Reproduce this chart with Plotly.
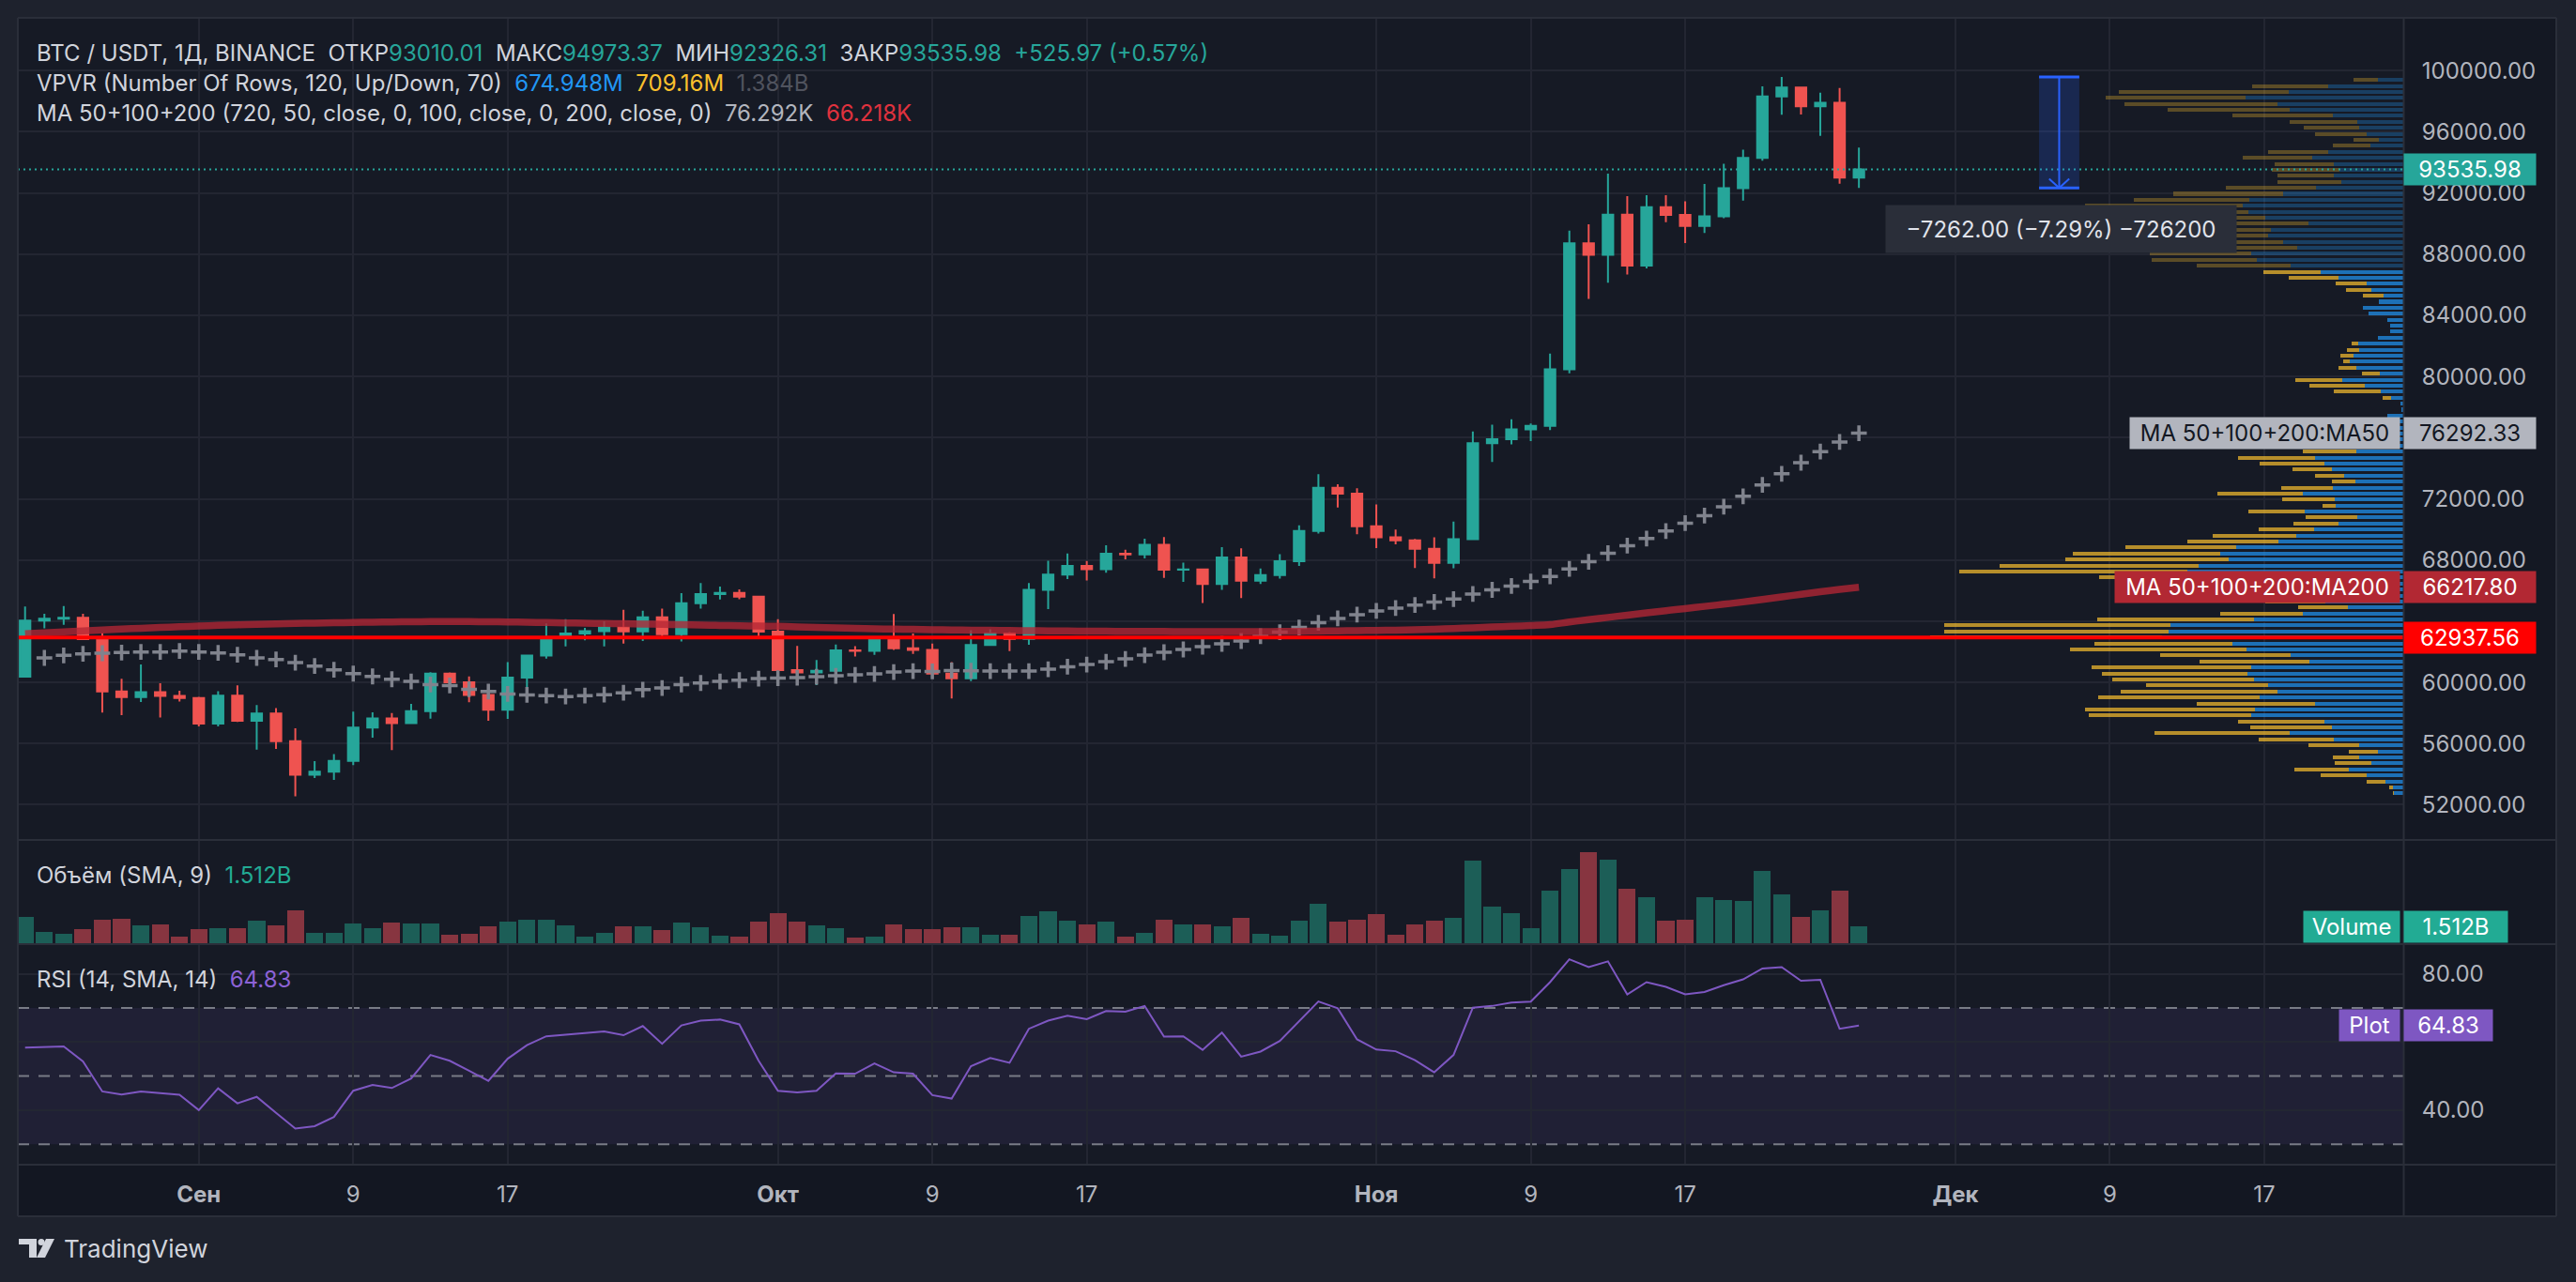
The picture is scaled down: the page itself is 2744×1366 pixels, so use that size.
import numpy as np
import pandas as pd
import plotly.graph_objects as go

# ---------------------------------------------------------------- data
dates = pd.date_range("2024-08-23", "2024-11-26", freq="D")

opens = [60380, 64037, 64157, 64220, 62834, 59415, 59034, 59359, 59123,
         58973, 57301, 59132, 57487, 57970, 56160, 53962, 54160, 54869, 57050,
         57648, 57343, 58127, 60571, 60005, 59182, 58213, 60309, 61759, 62947,
         63201, 63348, 63578, 63339, 64262, 63152, 65173, 65769, 65858, 65602,
         63327, 60805, 60649, 60752, 62086, 62058, 62819, 62224, 62131, 60582,
         60274, 62445, 63193, 62851, 66046, 67041, 67612, 67399, 68418, 68362,
         69001, 67367, 67390, 66432, 68161, 66642, 67014, 67929, 69907, 72720,
         72339, 70215, 69482, 69289, 68742, 67811, 69359, 75639, 75904, 76545,
         76778, 80471, 88701, 87955, 90585, 87250, 91066, 90558, 89843, 90465,
         92310, 94286, 98317, 98892, 97672, 97900, 93010.01]
highs = [64955, 64494, 65000, 64481, 63212, 60234, 61166, 59945, 59462,
         59054, 59425, 59809, 58519, 58327, 56995, 54850, 55318, 58088, 58044,
         57994, 58600, 60670, 60656, 60392, 59210, 61320, 61786, 63850, 64133,
         63559, 64000, 64745, 64688, 64817, 65839, 66498, 66260, 66076, 65618,
         64130, 62390, 61469, 62484, 62370, 62975, 64478, 63200, 62543, 61320,
         63417, 63480, 63285, 66500, 67950, 68424, 67939, 68969, 68668, 69400,
         69500, 67836, 67400, 68850, 68771, 67454, 68380, 70270, 73620, 72961,
         72700, 71632, 70000, 69387, 69480, 70522, 76400, 76849, 77199, 76932,
         81500, 89530, 89956, 93265, 91790, 91850, 91850, 91449, 92594, 93905,
         94831, 98967, 99588.31, 98908, 98564, 98871, 94973.37]
lows = [60345, 63531, 63773, 62800, 58034, 57860, 58713, 57703, 58744,
        57118, 57128, 57415, 55606, 55643, 52550, 53745, 53629, 54591, 56386,
        55567, 57321, 57630, 59571, 58697, 57493, 57610, 59175, 61555, 62350,
        62758, 62357, 62538, 62700, 62947, 62670, 64819, 65422, 65432, 62856,
        60164, 60000, 59828, 60459, 61689, 61798, 62128, 61860, 60300, 58946,
        60081, 62445, 62050, 62457, 64800, 66750, 66666, 67177, 68051, 68100,
        66835, 66571, 65188, 66051, 65521, 66439, 66792, 67618, 69730, 71436,
        69685, 68779, 69020, 67478, 66800, 67458, 69298, 74416, 75555, 75773,
        76492, 80216, 85072, 86127, 86668, 87073, 90093, 88722, 89376, 90357,
        91500, 94113, 97122, 97136, 95734, 92600, 92326.31]
closes = [64037, 64157, 64220, 62834, 59415, 59034, 59359, 59123, 58973,
          57301, 59132, 57487, 57970, 56160, 53962, 54160, 54869, 57050, 57648,
          57343, 58127, 60571, 60005, 59182, 58213, 60309, 61759, 62947, 63201,
          63348, 63578, 63339, 64262, 63152, 65173, 65769, 65858, 65602, 63327,
          60805, 60649, 60752, 62086, 62058, 62819, 62224, 62131, 60582, 60274,
          62445, 63193, 62851, 66046, 67041, 67612, 67399, 68418, 68362, 69001,
          67367, 67390, 66432, 68161, 66642, 67014, 67929, 69907, 72720, 72339,
          70215, 69482, 69289, 68742, 67811, 69359, 75639, 75904, 76545, 76778,
          80474, 88701, 87955, 90584, 87250, 91066, 90558, 89845, 90465, 92310,
          94286, 98317, 98892, 97672, 97900, 93010.01, 93535.98]

# quote volume, billions USDT
volume = [2.35, 1.01, 0.84, 1.26, 2.10, 2.18, 1.60, 1.68, 0.59,
          1.26, 1.34, 1.34, 2.02, 1.60, 2.94, 0.92, 0.92, 1.76, 1.34,
          1.85, 1.76, 1.76, 0.76, 0.84, 1.51, 1.93, 2.10, 2.10, 1.60,
          0.59, 0.92, 1.51, 1.51, 1.18, 1.85, 1.43, 0.67, 0.59, 1.93,
          2.69, 1.93, 1.60, 1.34, 0.50, 0.59, 1.68, 1.26, 1.26, 1.43,
          1.43, 0.76, 0.76, 2.44, 2.86, 2.02, 1.68, 1.93, 0.59, 0.92,
          2.10, 1.68, 1.68, 1.51, 2.27, 0.84, 0.67, 2.02, 3.53, 1.93,
          2.10, 2.60, 0.76, 1.68, 2.02, 2.27, 7.39, 3.28, 2.69, 1.34,
          4.70, 6.64, 8.15, 7.48, 4.87, 4.12, 2.02, 2.10, 4.12, 3.86,
          3.78, 6.47, 4.37, 2.35, 2.94, 4.70, 1.512]

# MA 50 (from Aug 24)
ma50 = [61601, 61765, 61867, 61908, 61950, 61990, 61990, 62052,
        61990, 61929, 61806, 61601, 61498, 61293, 61068, 60822, 60575, 60390,
        60206, 60062, 59857, 59796, 59550, 59406, 59242, 59181, 59140, 59078,
        59140, 59201, 59324, 59529, 59632, 59857, 59960, 60062, 60144, 60247,
        60280, 60309, 60370, 60432, 60493, 60555, 60678, 60740, 60720, 60781,
        60760, 60740, 60740, 60740, 60863, 61027, 61170, 61355, 61539, 61785,
        61970, 62154, 62339, 62524, 62708, 63016, 63283, 63590, 63898, 64185,
        64431, 64677, 64862, 65060, 65260, 65450, 65780, 66050, 66300, 66600,
        66927, 67418, 67886, 68447, 68939, 69406, 69897, 70412, 70903, 71488,
        72166, 72915, 73640, 74365, 75090, 75721, 76292.33]

# MA 200
ma200 = [63180, 63250, 63310, 63370, 63430, 63490, 63540, 63590, 63640,
         63690, 63730, 63770, 63800, 63830, 63860, 63880, 63900, 63920, 63940,
         63955, 63965, 63975, 63980, 63975, 63965, 63950, 63935, 63915, 63895,
         63875, 63855, 63835, 63815, 63795, 63775, 63750, 63725, 63700, 63690,
         63670, 63630, 63590, 63560, 63530, 63505, 63488, 63470, 63450, 63435,
         63420, 63405, 63390, 63380, 63370, 63360, 63350, 63344, 63338, 63333,
         63330, 63327, 63325, 63324, 63324, 63324, 63330, 63340, 63355, 63370,
         63385, 63400, 63420, 63447, 63480, 63520, 63570, 63620, 63670, 63720,
         63780, 63950, 64100, 64250, 64400, 64550, 64690, 64830, 64970, 65110,
         65260, 65420, 65590, 65760, 65930, 66080, 66217.80]

rsi = [58.4, 58.5, 58.7, 54.3, 45.5, 44.6, 45.5, 45.0, 44.5,
       40.0, 46.4, 42.0, 43.9, 39.2, 34.6, 35.3, 38.0, 45.7, 47.4,
       46.5, 49.3, 56.2, 54.5, 51.6, 48.6, 55.1, 59.1, 61.7, 62.2,
       62.5, 63.1, 62.0, 64.7, 59.5, 64.9, 66.3, 66.6, 65.2, 54.5,
       45.7, 45.2, 45.7, 50.8, 50.7, 53.7, 51.1, 50.7, 44.4, 43.4,
       52.9, 55.3, 53.9, 63.9, 66.3, 67.7, 66.7, 69.1, 68.9, 70.6,
       61.6, 61.7, 57.7, 62.8, 55.7, 57.2, 60.3, 66.2, 71.9, 69.9,
       60.8, 57.8, 57.3, 54.7, 51.1, 56.2, 70.1, 70.6, 71.6, 71.9,
       77.6, 84.3, 82.0, 83.7, 74.0, 77.6, 76.2, 74.0, 74.7, 76.7,
       78.4, 81.6, 82.0, 78.0, 78.3, 63.9, 64.83]

# visible range volume profile, 120 rows from the top price down
vp_high, vp_low = 99588.31, 52550.0
value_area = (52550.0, 87040.0)
vpvr_up = [81, 240, 367, 505, 403, 364, 225, 147, 141, 118,
           79, 105, 240, 291, 222, 204, 222, 198, 279, 384,
           492, 513, 495, 441, 303, 423, 433, 384, 339, 487,
           468, 360, 264, 207, 117, 102, 63, 78, 129, 111,
           51, 42, 42, 81, 144, 141, 159, 171, 150, 75,
           195, 123, 72, 39, 10, 5, 51, 60, 90, 120,
           140, 150, 150, 282, 252, 228, 189, 153, 225, 321,
           219, 216, 315, 147, 207, 285, 342, 399, 534, 585,
           558, 654, 690, 600, 500, 420, 330, 250, 177, 321,
           477, 744, 750, 771, 546, 501, 360, 300, 486, 498,
           477, 432, 402, 459, 282, 474, 486, 252, 228, 363,
           222, 141, 81, 141, 102, 174, 117, 57, 33, 30]
vpvr_down = [78, 243, 542, 446, 488, 389, 321, 216, 177, 164,
             80, 120, 192, 222, 189, 216, 180, 204, 288, 351,
             369, 504, 470, 420, 280, 400, 420, 360, 330, 323,
             336, 300, 183, 159, 99, 81, 66, 0, 0, 0,
             0, 0, 0, 0, 21, 39, 42, 21, 57, 57,
             150, 177, 150, 27, 0, 0, 0, 40, 70, 100,
             130, 150, 171, 246, 207, 126, 93, 75, 165, 273,
             168, 42, 180, 165, 144, 177, 267, 291, 354, 471,
             522, 636, 729, 372, 330, 280, 230, 190, 159, 264,
             501, 723, 717, 741, 441, 564, 417, 351, 510, 465,
             453, 390, 501, 516, 378, 543, 519, 276, 261, 432,
             240, 162, 93, 84, 117, 174, 147, 60, 12, 3]
vpvr_up_total, vpvr_down_total = 674.948e6, 709.16e6
poc_price = 62937.56

price_ticks = list(range(52000, 100001, 4000))
hidden_price_ticks = [64000, 76000]   # sit under the MA / POC tags
tick_dates = ["2024-09-01", "2024-09-09", "2024-09-17", "2024-10-01",
              "2024-10-09", "2024-10-17", "2024-11-01", "2024-11-09",
              "2024-11-17", "2024-12-01", "2024-12-09", "2024-12-17"]
tick_text = ["<b>Сен</b>", "9", "17", "<b>Окт</b>", "9", "17",
             "<b>Ноя</b>", "9", "17", "<b>Дек</b>", "9", "17"]
rsi_ticks = [40, 60, 80]
hidden_rsi_ticks = [60]

# ---------------------------------------------------------------- style
W, H = 2744, 1366
FONT = "Inter, Roboto, sans-serif"
TXT = "#d1d4dc"
AXIS_TXT = "#b2b5be"
TEAL = "#26a69a"
RED = "#ef5350"
GRID = "#232632"
BORDER = "#2a2e39"
PURPLE = "#7e57c2"
NB = "\u00a0"

LEFT, RIGHT, AXIS_R = 19, 2560, 2723
TOP, MAIN_B = 19, 894
VOL_T, VOL_B = 896, 1005
RSI_T, RSI_B = 1007, 1241
TIME_B = 1296
x_range = ["2024-08-22 15:00", "2024-12-24 04:48"]


def fx(px):
    return px / W


def fy(py):
    return 1 - py / H


def c(text, color):
    return f'<span style="color:{color}">{text}</span>'


# ---------------------------------------------------------------- traces
fig = go.Figure()

edges = np.linspace(vp_high, vp_low, len(vpvr_up) + 1)
vp_mid = (edges[:-1] + edges[1:]) / 2
row_h = (vp_high - vp_low) / len(vpvr_up)
in_va = [(value_area[0] <= p <= value_area[1]) for p in vp_mid]
up_cols = ["rgba(33,150,243,0.7)" if v else "rgba(33,150,243,0.3)" for v in in_va]
dn_cols = ["rgba(251,192,45,0.7)" if v else "rgba(251,192,45,0.3)" for v in in_va]

fig.add_trace(go.Bar(y=vp_mid, x=vpvr_up, orientation="h", xaxis="x2", yaxis="y",
                     width=row_h * 0.63, marker=dict(color=up_cols, line_width=0),
                     hoverinfo="skip"))
fig.add_trace(go.Bar(y=vp_mid, x=vpvr_down, orientation="h", xaxis="x2", yaxis="y",
                     width=row_h * 0.63, marker=dict(color=dn_cols, line_width=0),
                     hoverinfo="skip"))

fig.add_trace(go.Scatter(
    x=dates[1:], y=ma50, mode="markers", xaxis="x", yaxis="y",
    marker=dict(symbol="cross-thin", size=12, line=dict(width=3.5, color="#80838d")),
    hoverinfo="skip"))
fig.add_trace(go.Scatter(
    x=dates, y=ma200, mode="lines", xaxis="x", yaxis="y",
    line=dict(color="rgba(180,38,52,0.78)", width=7.5, shape="spline"),
    hoverinfo="skip"))
fig.add_trace(go.Candlestick(
    x=dates, open=opens, high=highs, low=lows, close=closes,
    xaxis="x", yaxis="y", whiskerwidth=0,
    increasing=dict(line=dict(color=TEAL, width=2), fillcolor=TEAL),
    decreasing=dict(line=dict(color=RED, width=2), fillcolor=RED),
    hoverinfo="skip"))

vol_cols = ["#1c5e57" if cl >= op else "#873540" for op, cl in zip(opens, closes)]
fig.add_trace(go.Bar(x=dates, y=volume, xaxis="x3", yaxis="y3",
                     width=0.88 * 86400000, marker=dict(color=vol_cols, line_width=0),
                     hoverinfo="skip"))

fig.add_trace(go.Scatter(x=dates, y=rsi, mode="lines", xaxis="x4", yaxis="y4",
                         line=dict(color=PURPLE, width=2), hoverinfo="skip"))

# ---------------------------------------------------------------- shapes
shapes = []


def prect(x0, y0, x1, y1, color, layer="below"):
    shapes.append(dict(type="rect", xref="paper", yref="paper", layer=layer,
                       x0=fx(x0), x1=fx(x1), y0=fy(y1), y1=fy(y0),
                       fillcolor=color, line_width=0))


def pline(x0, y0, x1, y1, color=BORDER, width=2):
    shapes.append(dict(type="line", xref="paper", yref="paper", layer="above",
                       x0=fx(x0), x1=fx(x1), y0=fy(y0), y1=fy(y1),
                       line=dict(color=color, width=width)))


prect(LEFT, TOP, RIGHT, RSI_B, "#161a25")
prect(RIGHT, TOP, AXIS_R, TIME_B, "#141823")
prect(LEFT, RSI_B, AXIS_R, TIME_B, "#131722")

# RSI band and levels
shapes.append(dict(type="rect", xref="paper", yref="y4", layer="below",
                   x0=fx(LEFT), x1=fx(RIGHT), y0=30, y1=70,
                   fillcolor="rgba(126,87,194,0.10)", line_width=0))
for lvl in (30, 50, 70):
    shapes.append(dict(type="line", xref="paper", yref="y4", layer="below",
                       x0=fx(LEFT), x1=fx(RIGHT), y0=lvl, y1=lvl,
                       line=dict(color="#787b86", width=2, dash="12px,10px")))

# POC and last price lines
shapes.append(dict(type="line", xref="paper", yref="y", layer="above",
                   x0=fx(LEFT), x1=fx(RIGHT), y0=poc_price, y1=poc_price,
                   line=dict(color="#ff0000", width=4)))
shapes.append(dict(type="line", xref="paper", yref="y", layer="above",
                   x0=fx(LEFT), x1=fx(RIGHT), y0=closes[-1], y1=closes[-1],
                   line=dict(color=TEAL, width=2, dash="2px,4px")))

# price range measurement
m_top, m_bot = max(highs), lows[-1]
m_x0, m_x1, m_mid = "2024-12-05 08:00", "2024-12-07 10:00", "2024-12-06 09:00"
shapes.append(dict(type="rect", xref="x", yref="y", layer="above",
                   x0=m_x0, x1=m_x1, y0=m_bot, y1=m_top,
                   fillcolor="rgba(41,98,255,0.2)", line_width=0))
for yv in (m_top, m_bot):
    shapes.append(dict(type="line", xref="x", yref="y", layer="above",
                       x0=m_x0, x1=m_x1, y0=yv, y1=yv,
                       line=dict(color="#2962ff", width=3)))
shapes.append(dict(type="line", xref="x", yref="y", layer="above",
                   x0=m_mid, x1=m_mid, y0=m_top, y1=m_bot,
                   line=dict(color="#2962ff", width=2)))
for side in ("2024-12-05 20:30", "2024-12-06 21:30"):
    shapes.append(dict(type="line", xref="x", yref="y", layer="above",
                       x0=side, x1=m_mid, y0=m_bot + 600, y1=m_bot,
                       line=dict(color="#2962ff", width=2)))

# pane borders
pline(LEFT, TOP, AXIS_R, TOP)
pline(LEFT, 895, AXIS_R, 895)
pline(LEFT, 1006, AXIS_R, 1006)
pline(LEFT, RSI_B, AXIS_R, RSI_B)
pline(LEFT, TIME_B, AXIS_R, TIME_B)
pline(LEFT, TOP, LEFT, TIME_B)
pline(RIGHT + 0.5, TOP, RIGHT + 0.5, TIME_B)
pline(AXIS_R, TOP, AXIS_R, TIME_B)

# TradingView logo
LOGO = "#d1d4dc"
prect(20, 1320, 39, 1326, LOGO, layer="above")
prect(31, 1320, 39, 1340, LOGO, layer="above")
shapes.append(dict(type="circle", xref="paper", yref="paper", layer="above",
                   x0=fx(40.5), x1=fx(47.5), y0=fy(1327), y1=fy(1320),
                   fillcolor=LOGO, line_width=0))
shapes.append(dict(type="path", xref="paper", yref="paper", layer="above",
                   path=(f"M {fx(49)} {fy(1320)} L {fx(58)} {fy(1320)} "
                         f"L {fx(48)} {fy(1340)} L {fx(39)} {fy(1340)} Z"),
                   fillcolor=LOGO, line_width=0))

# ---------------------------------------------------------------- annotations
ann = []


def text_at(text, x_px, y_px, size=24, color=TXT, anchor="left"):
    ann.append(dict(text=text, x=fx(x_px), y=fy(y_px), xref="paper", yref="paper",
                    xanchor=anchor, yanchor="middle", showarrow=False,
                    font=dict(family=FONT, size=size, color=color)))


def tag(text, y, yref, bg, fg, x_px, anchor, width):
    ann.append(dict(text=text, x=fx(x_px), xref="paper", xanchor=anchor,
                    y=y, yref=yref, yanchor="middle", showarrow=False,
                    bgcolor=bg, width=width, height=27, borderpad=3, align="center",
                    font=dict(family=FONT, size=24, color=fg)))


o, h, l, cl = opens[-1], highs[-1], lows[-1], closes[-1]
chg = cl - closes[-2]
pct = chg / closes[-2] * 100
sp = NB * 2
line1 = (c("BTC / USDT, 1Д, BINANCE", TXT) + sp + c("ОТКР", TXT) + c(f"{o:.2f}", TEAL) + sp
         + c("МАКС", TXT) + c(f"{h:.2f}", TEAL) + sp + c("МИН", TXT) + c(f"{l:.2f}", TEAL)
         + sp + c("ЗАКР", TXT) + c(f"{cl:.2f}", TEAL) + sp
         + c(f"{chg:+.2f} ({pct:+.2f}%)", TEAL))


def short_m(v):
    return f"{v / 1e6:.3f}".rstrip("0").rstrip(".") + "M"


line2 = (c("VPVR (Number Of Rows, 120, Up/Down, 70)", TXT) + sp
         + c(short_m(vpvr_up_total), "#2196f3") + sp + c(short_m(vpvr_down_total), "#fbc02d")
         + sp + c(f"{(vpvr_up_total + vpvr_down_total) / 1e9:.3f}B", "#50535e"))
line3 = (c("MA 50+100+200 (720, 50, close, 0, 100, close, 0, 200, close, 0)", TXT) + sp
         + c(f"{ma50[-1] / 1000:.3f}K", AXIS_TXT) + sp + c(f"{ma200[-1] / 1000:.3f}K", "#e0323e"))

text_at(line1, 37, 56)
text_at(line2, 37, 88)
text_at(line3, 37, 120)
text_at(c("Объём (SMA, 9)", TXT) + sp + c(f"{volume[-1]:.3f}B", "#22ab94"), 37, 932)
text_at(c("RSI (14, SMA, 14)", TXT) + sp + c(f"{rsi[-1]:.2f}", "#8c62d6"), 37, 1043)
text_at("TradingView", 66, 1330, size=26, color=LOGO)

diff = m_bot - m_top
ann.append(dict(text=f"{diff:.2f} ({diff / m_top * 100:.2f}%) {diff * 100:.0f}".replace("-", "\u2212"),
                x=fx(2195), y=fy(244), xref="paper", yref="paper", xanchor="center",
                yanchor="middle", showarrow=False, bgcolor="#2a2e39", width=365, height=42,
                borderpad=4, font=dict(family=FONT, size=24, color="#e0e3eb")))

tag(f"{cl:.2f}", cl, "y", TEAL, "#ffffff", RIGHT, "left", 134)
tag("MA 50+100+200:MA50", ma50[-1], "y", "#b2b5be", "#131722", RIGHT - 3, "right", 281)
tag(f"{ma50[-1]:.2f}", ma50[-1], "y", "#b2b5be", "#131722", RIGHT, "left", 134)
tag("MA 50+100+200:MA200", ma200[-1], "y", "#b22833", "#ffffff", RIGHT - 3, "right", 297)
tag(f"{ma200[-1]:.2f}", ma200[-1], "y", "#b22833", "#ffffff", RIGHT, "left", 134)
tag(f"{poc_price:.2f}", poc_price, "y", "#ff0000", "#ffffff", RIGHT, "left", 134)
tag("Volume", volume[-1], "y3", "#22ab94", "#ffffff", RIGHT - 3, "right", 96)
tag(f"{volume[-1]:.3f}B", volume[-1], "y3", "#22ab94", "#ffffff", RIGHT, "left", 104)
tag("Plot", rsi[-1], "y4", PURPLE, "#ffffff", RIGHT - 3, "right", 58)
tag(f"{rsi[-1]:.2f}", rsi[-1], "y4", PURPLE, "#ffffff", RIGHT, "left", 88)

# ---------------------------------------------------------------- layout
x_common = dict(domain=[fx(LEFT), fx(RIGHT)], range=x_range, type="date",
                tickvals=tick_dates, showgrid=True, gridcolor=GRID, gridwidth=1.5,
                zeroline=False, showline=False, fixedrange=True)
tick_font = dict(family=FONT, size=24, color=AXIS_TXT)

fig.update_layout(
    width=W, height=H,
    margin=dict(l=0, r=0, t=0, b=0),
    paper_bgcolor="#1e222d", plot_bgcolor="rgba(0,0,0,0)",
    showlegend=False, hovermode=False, barmode="stack",
    boxgap=0.22,
    xaxis=dict(**x_common, anchor="y", showticklabels=False,
               rangeslider=dict(visible=False)),
    xaxis2=dict(overlaying="x", anchor="y", range=[7623, 0], visible=False,
                fixedrange=True),
    xaxis3=dict(**x_common, anchor="y3", showticklabels=False),
    xaxis4=dict(**x_common, anchor="y4", ticktext=tick_text, tickfont=tick_font,
                ticks="outside", ticklen=10, tickcolor="rgba(0,0,0,0)"),
    yaxis=dict(domain=[fy(MAIN_B), fy(TOP)], range=[49760, 103450], anchor="x",
               side="right", tickvals=price_ticks,
               ticktext=["" if v in hidden_price_ticks else f"{v:.2f}" for v in price_ticks],
               tickfont=tick_font,
               ticks="outside", ticklen=14, tickcolor="rgba(0,0,0,0)",
               showgrid=True, gridcolor=GRID, gridwidth=1.5, zeroline=False,
               fixedrange=True),
    yaxis3=dict(domain=[fy(VOL_B), fy(VOL_T)], range=[0, 9.16], anchor="x3",
                visible=False, fixedrange=True),
    yaxis4=dict(domain=[fy(RSI_B), fy(RSI_T)], range=[23.98, 88.48], anchor="x4",
                side="right", tickvals=rsi_ticks,
                ticktext=["" if v in hidden_rsi_ticks else f"{v:.2f}" for v in rsi_ticks],
                tickfont=tick_font,
                ticks="outside", ticklen=14, tickcolor="rgba(0,0,0,0)",
                showgrid=True, gridcolor=GRID, gridwidth=1.5, zeroline=False,
                fixedrange=True),
    shapes=shapes,
    annotations=ann,
)

fig.write_html("out.html", config={"displayModeBar": False},
               post_script="document.body.style.margin='0';document.body.style.overflow='hidden';")
